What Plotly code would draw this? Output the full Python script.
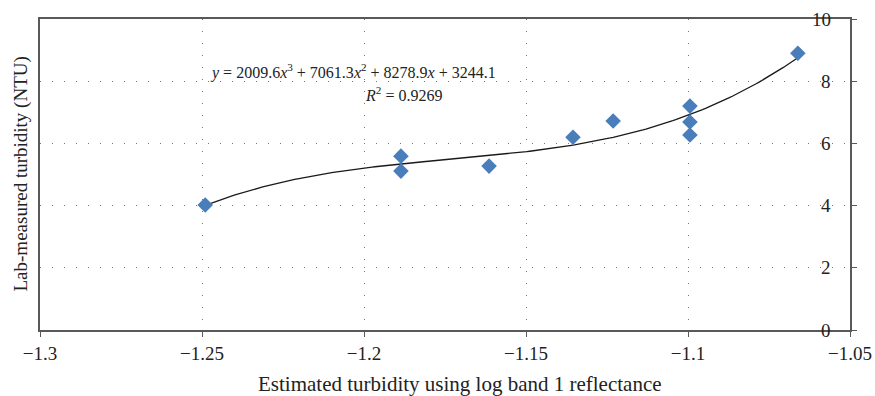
import numpy as np
import plotly.graph_objects as go

x_est = [-1.249, -1.1886, -1.1886, -1.1614, -1.1355, -1.1231, -1.0994, -1.0994, -1.0994, -1.0661]
y_lab = [4.02, 5.59, 5.11, 5.27, 6.20, 6.72, 7.20, 6.69, 6.27, 8.90]
x_ticks = [-1.3, -1.25, -1.2, -1.15, -1.1, -1.05]
y_ticks = [0, 2, 4, 6, 8, 10]
eq_text = "<i>y</i> = 2009.6<i>x</i><sup>3</sup> + 7061.3<i>x</i><sup>2</sup> + 8278.9<i>x</i> + 3244.1"
r2_text = "<i>R</i><sup>2</sup> = 0.9269"

coef = np.polyfit(x_est, y_lab, 3)
xs = np.linspace(min(x_est), max(x_est), 200)
ys = np.polyval(coef, xs)

FONT = "Liberation Serif"
AX = "#595959"
TXT = "#222"

fig = go.Figure()
fig.add_trace(go.Scatter(x=xs, y=ys, mode="lines", line=dict(color="#1a1a1a", width=1.3),
                         hoverinfo="skip", showlegend=False))
fig.add_trace(go.Scatter(x=x_est, y=y_lab, mode="markers",
                         marker=dict(symbol="diamond", size=12, color="#4a7ebb",
                                     line=dict(width=0)), showlegend=False))

annotations = [
    dict(text=eq_text, xref="paper", yref="paper", x=(353 - 40) / 810, y=(330 - 72) / 311,
         showarrow=False, xanchor="center", yanchor="middle", font=dict(size=16)),
    dict(text=r2_text, xref="paper", yref="paper", x=(403 - 40) / 810, y=(330 - 94) / 311,
         showarrow=False, xanchor="center", yanchor="middle", font=dict(size=16)),
    dict(text="Estimated turbidity using log band 1 reflectance", xref="paper", yref="paper",
         x=(460 - 40) / 810, y=(330 - 384) / 311, showarrow=False, xanchor="center",
         yanchor="middle", font=dict(size=21)),
    dict(text="Lab-measured turbidity (NTU)", xref="paper", yref="paper",
         x=(20 - 40) / 810, y=0.5, showarrow=False, xanchor="center", yanchor="middle",
         textangle=-90, font=dict(size=19)),
]
for v in y_ticks:
    annotations.append(dict(text=str(v), xref="paper", yref="y", x=(833 - 40) / 810, y=v,
                            showarrow=False, xanchor="right", yanchor="middle",
                            font=dict(size=19), bgcolor="rgba(0,0,0,0)"))

fig.update_layout(
    width=875, height=396,
    margin=dict(l=40, r=25, t=19, b=66),
    plot_bgcolor="white", paper_bgcolor="white",
    font=dict(family=FONT, size=16, color=TXT),
    xaxis=dict(range=[-1.3, -1.05], tickvals=x_ticks, ticks="outside", ticklen=5,
               tickcolor=AX, showline=True, linecolor=AX, linewidth=1.5, mirror=True,
               showgrid=True, gridcolor="#777", griddash="1px,11px", gridwidth=1.3,
               zeroline=False, automargin=False, tickfont=dict(size=19, family=FONT)),
    yaxis=dict(range=[0, 10], tickvals=y_ticks, side="right", showticklabels=False,
               ticks="outside", ticklen=5, tickcolor=AX, showline=True, linecolor=AX,
               linewidth=1.5, mirror=True, showgrid=True, gridcolor="#777",
               griddash="1px,11px", gridwidth=1.3, zeroline=False, automargin=False),
    annotations=annotations,
)

fig.write_html("out.html")
